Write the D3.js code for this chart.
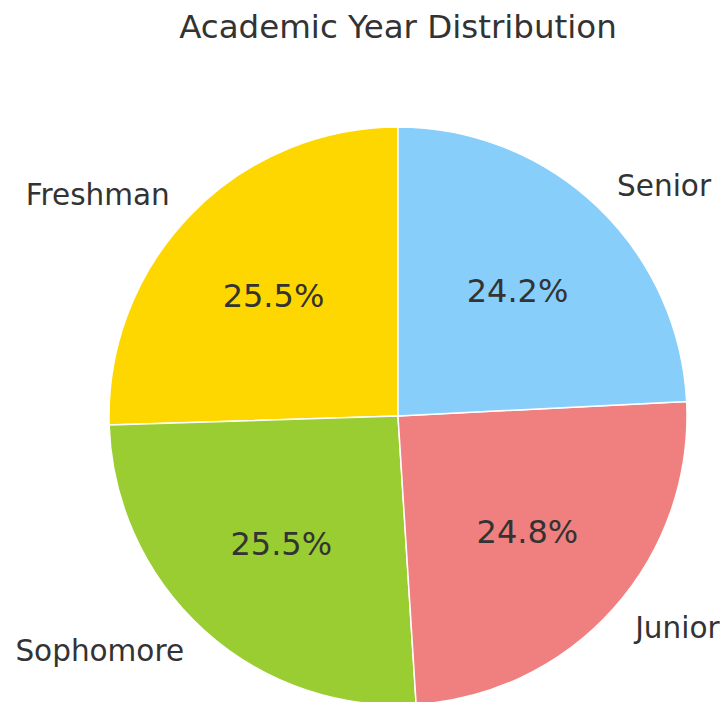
<!DOCTYPE html>
<html>
<head>
<meta charset="utf-8">
<script src="https://cdn.jsdelivr.net/npm/d3@7"></script>
<style>
  body { margin: 0; background: #fff; }
  svg { display: block; font-family: "DejaVu Sans", sans-serif; }
</style>
</head>
<body>
<svg id="chart" width="720" height="702"></svg>
<script>
// academic year shares (percent), counter-clockwise from 12 o'clock
const years = ['Freshman', 'Sophomore', 'Junior', 'Senior']
const shares = [25.5, 25.5, 24.8, 24.2]
const colors = ['#FFD700', '#9ACD32', '#F08080', '#87CEFA']

const width = 720
const height = 702
const svg = d3.select('#chart')

const cx = 398
const cy = 416
const radius = 289

const data = years.map((y, i) => ({category: y, value: shares[i], color: colors[i]}))

// negative end angle so slices run counter-clockwise like matplotlib
const pie = d3.pie()
  .value(d => d.value)
  .sort(null)
  .startAngle(0)
  .endAngle(-2 * Math.PI)

const arc = d3.arc().innerRadius(0).outerRadius(radius)
const pctArc = d3.arc().innerRadius(radius * 0.6).outerRadius(radius * 0.6)
const labelArc = d3.arc().innerRadius(radius * 1.1).outerRadius(radius * 1.1)

const g = svg.append('g')
  .attr('transform', `translate(${cx}, ${cy})`)

const slices = g.selectAll('.slice')
  .data(pie(data))
  .enter()

slices.append('path')
  .attr('d', arc)
  .attr('fill', d => d.data.color)
  .attr('stroke', '#fff')
  .attr('stroke-width', 1.5)

// percent labels inside the wedges
slices.append('text')
  .attr('transform', d => `translate(${pctArc.centroid(d)})`)
  .attr('text-anchor', 'middle')
  .attr('dy', '0.35em')
  .attr('font-size', 32)
  .attr('fill', '#333')
  .text(d => `${d.data.value.toFixed(1)}%`)

// category labels outside
slices.append('text')
  .attr('transform', d => `translate(${labelArc.centroid(d)})`)
  .attr('text-anchor', d => labelArc.centroid(d)[0] < 0 ? 'end' : 'start')
  .attr('dy', '0.35em')
  .attr('font-size', 29.5)
  .attr('fill', '#333')
  .text(d => d.data.category)

// title
svg.append('text')
  .attr('x', cx)
  .attr('y', 38)
  .attr('text-anchor', 'middle')
  .attr('font-size', 32.5)
  .attr('fill', '#333')
  .text('Academic Year Distribution')
</script>
</body>
</html>
